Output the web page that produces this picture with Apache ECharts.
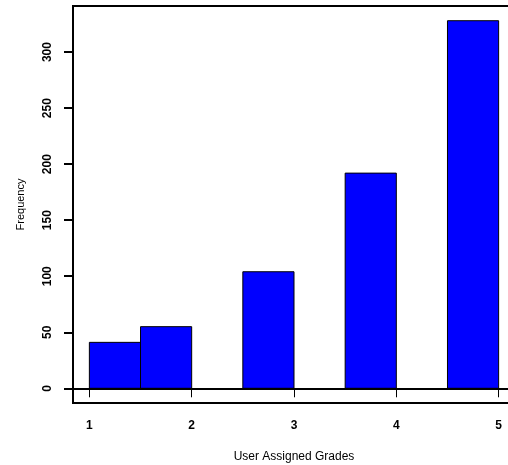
<!DOCTYPE html>
<html>
<head>
<meta charset="utf-8">
<script src="https://cdn.jsdelivr.net/npm/echarts@6/dist/echarts.min.js"></script>
<style>html,body{margin:0;padding:0;background:#fff;}#c{width:508px;height:465px;}</style>
</head>
<body>
<div id="c"></div>
<script>
var binStart = [1, 1.5, 2.5, 3.5, 4.5];
var binEnd = [1.5, 2, 3, 4, 5];
var counts = [41, 55, 104, 192, 328];
var xTicks = [1, 2, 3, 4, 5];
var yTicks = [0, 50, 100, 150, 200, 250, 300];

var data = binStart.map(function (s, i) { return [s, binEnd[i], counts[i]]; });
var chart = echarts.init(document.getElementById('c'));
var font = 'Liberation Sans, Arial, sans-serif';
chart.setOption({
  animation: false,
  backgroundColor: '#fff',
  grid: { left: 73, top: 6, right: -7, bottom: 62, outerBoundsMode: 'none', containLabel: false, show: true, borderColor: '#000', borderWidth: 2, backgroundColor: 'transparent' },
  xAxis: {
    type: 'value', min: 0.84, max: 5.16,
    name: 'User Assigned Grades', nameLocation: 'middle', nameGap: 48,
    nameTextStyle: { fontFamily: font, fontSize: 12, color: '#000' },
    axisLine: { show: false },
    splitLine: { show: false },
    axisTick: { show: true, length: 9, customValues: xTicks, lineStyle: { color: '#000', width: 1 } },
    axisLabel: { customValues: xTicks, margin: 17, fontFamily: font, fontSize: 12, fontWeight: 'bold', color: '#000' }
  },
  yAxis: {
    type: 'value', min: -13.12, max: 341.12,
    name: 'Frequency', nameLocation: 'middle', nameGap: 47, nameRotate: 90,
    nameTextStyle: { fontFamily: font, fontSize: 11, color: '#000' },
    axisLine: { show: false },
    splitLine: { show: false },
    axisTick: { show: true, length: 9, customValues: yTicks, lineStyle: { color: '#000', width: 2 } },
    axisLabel: { customValues: yTicks, rotate: 90, margin: 19, fontFamily: font, fontSize: 12, fontWeight: 'bold', color: '#000' }
  },
  series: [{
    type: 'custom',
    data: data,
    encode: { x: [0, 1], y: 2 },
    renderItem: function (params, api) {
      var p0 = api.coord([api.value(0), 0]);
      var p1 = api.coord([api.value(1), api.value(2)]);
      return {
        type: 'rect',
        shape: { x: p0[0], y: p1[1], width: p1[0] - p0[0], height: p0[1] - p1[1] },
        style: { fill: '#0000FF', stroke: '#000', lineWidth: 1 }
      };
    },
    markLine: {
      silent: true, symbol: 'none', label: { show: false },
      lineStyle: { color: '#000', width: 2, type: 'solid' },
      data: [{ yAxis: 0 }]
    }
  }]
});
</script>
</body>
</html>
